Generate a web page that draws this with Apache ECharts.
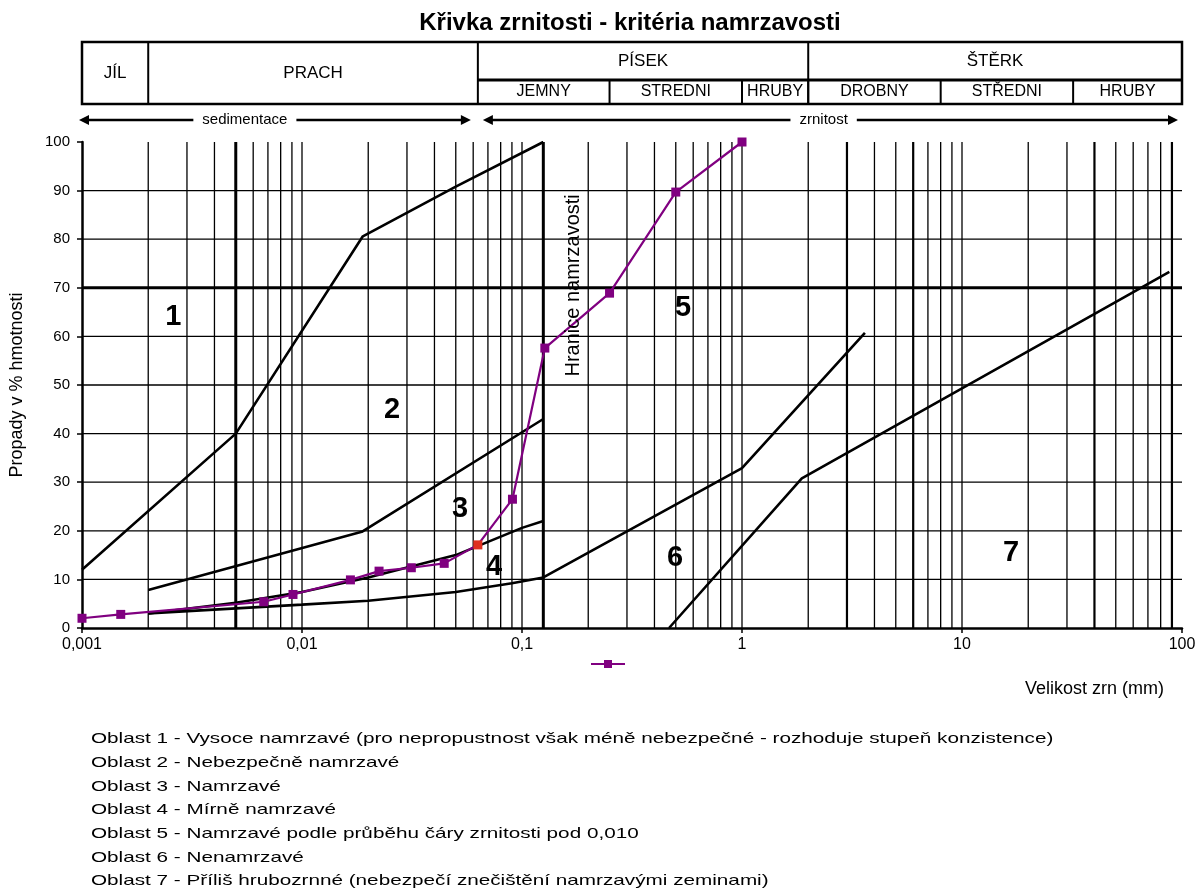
<!DOCTYPE html>
<html>
<head>
<meta charset="utf-8">
<script src="https://cdn.jsdelivr.net/npm/echarts@6/dist/echarts.min.js"></script>
<style>
  html, body { margin: 0; padding: 0; background: #fff; }
  #chart { width: 1204px; height: 894px; }
</style>
</head>
<body>
<div id="chart"></div>
<script>
// ---- grain-size classes shown in the header table (mm) ----
const mainClassNames  = ['JÍL', 'PRACH', 'PÍSEK', 'ŠTĚRK'];
const mainClassBounds = [[0.001, 0.002], [0.002, 0.063], [0.063, 2], [2, 100]];
const subClassNames   = ['JEMNY', 'STREDNI', 'HRUBY', 'DROBNY', 'STŘEDNI', 'HRUBY'];
const subClassBounds  = [[0.063, 0.25], [0.25, 1], [1, 2], [2, 8], [8, 32], [32, 100]];
const rangeArrows     = [{ text: 'sedimentace', from: 0.001, to: 0.063, mid: 0.0055 },
                         { text: 'zrnitost', from: 0.063, to: 100, mid: 2.35 }];

// ---- axes ----
const xTickLabels = ['0,001', '0,01', '0,1', '1', '10', '100'];
const xGridLines = [0.002, 0.003, 0.004, 0.006, 0.007, 0.008, 0.009,
                    0.01, 0.02, 0.03, 0.04, 0.05, 0.06, 0.07, 0.08, 0.09,
                    0.1, 0.2, 0.3, 0.4, 0.5, 0.6, 0.7, 0.8, 0.9,
                    1, 2, 4, 5, 7, 8, 9,
                    10, 20, 30, 50, 60, 70, 80];
const xMediumLines = [3, 6, 40, 90];
const xBoldLines = [0.005, 0.125];          // sedimentation limit, frost-susceptibility limit
const yGridLines = [10, 20, 30, 40, 50, 60, 80, 90];
const yBoldLines = [70];

// ---- boundary curves between regions [grain size mm, passing %] ----
const curve12 = [[0.001, 12], [0.005, 40], [0.0189, 80.6], [0.05, 90.8], [0.125, 100]];
const curve23 = [[0.002, 7.8], [0.0187, 19.8], [0.125, 43]];
const curve34 = [[0.002, 3], [0.005, 5.2], [0.01, 7.4], [0.02, 10.4], [0.05, 15], [0.1, 20.6], [0.125, 22]];
const curve46 = [[0.002, 3], [0.01, 4.8], [0.02, 5.6], [0.05, 7.4], [0.09, 9.2], [0.125, 10.4], [1, 32.9], [3.62, 60.7]];
const curve67 = [[0.466, 0], [1.87, 30.8], [87.6, 73.3]];

// ---- tested soil grading curve ----
const sampleSizes   = [0.001, 0.0015, 0.0067, 0.0091, 0.0166, 0.0224, 0.0314, 0.0443, 0.063, 0.0905, 0.127, 0.25, 0.5, 1];
const samplePassing = [2, 2.8, 5.4, 6.9, 9.9, 11.7, 12.4, 13.3, 17.1, 26.5, 57.6, 68.9, 89.7, 100];
const highlightedSize = 0.063;

// ---- region numbers ----
const regionNames = ['1', '2', '3', '4', '5', '6', '7'];
const regionPos   = [[0.0026, 64], [0.0257, 44.8], [0.0523, 24.5], [0.0746, 12.5], [0.54, 65.8], [0.496, 14.4], [16.7, 15.4]];

const regionNotes = [
  'Oblast 1 - Vysoce namrzavé (pro nepropustnost však méně nebezpečné - rozhoduje stupeň konzistence)',
  'Oblast 2 - Nebezpečně namrzavé',
  'Oblast 3 - Namrzavé',
  'Oblast 4 - Mírně namrzavé',
  'Oblast 5 - Namrzavé podle průběhu čáry zrnitosti pod 0,010',
  'Oblast 6 - Nenamrzavé',
  'Oblast 7 - Příliš hrubozrnné (nebezpečí znečištění namrzavými zeminami)'
];

const FONT = '"Liberation Sans", Arial, sans-serif';
const INK = '#000';
const PURPLE = '#800080';
const X_MIN = 0.001, X_MAX = 100, Y_MIN = 0, Y_MAX = 100;

// Several full-height / full-width rules in one line series, separated by gaps.
function verticalRules(values) {
  const d = [];
  values.forEach(v => { d.push([v, Y_MIN], [v, Y_MAX], [v, '-']); });
  return d;
}
function horizontalRules(values) {
  const d = [];
  values.forEach(v => { d.push([X_MIN, v], [X_MAX, v], ['-', v]); });
  return d;
}
function rules(data, width) {
  return {
    type: 'line', data: data, symbol: 'none', silent: true, z: 1,
    connectNulls: false, lineStyle: { color: INK, width: width }
  };
}
function boundary(data) {
  return {
    type: 'line', data: data, symbol: 'none', silent: true, z: 3,
    lineStyle: { color: INK, width: 2.6 }
  };
}

const chart = echarts.init(document.getElementById('chart'), null, { renderer: 'canvas' });

const option = {
  animation: false,
  backgroundColor: '#fff',
  grid: { left: 82, top: 142, width: 1100, height: 486 },
  legend: {
    left: 585, top: 654, itemWidth: 34, itemHeight: 10,
    data: ['Vzorek'], formatter: () => '', selectedMode: false
  },
  xAxis: {
    type: 'log', logBase: 10, min: X_MIN, max: X_MAX,
    axisLine: { lineStyle: { color: INK, width: 2.5 } },
    axisTick: { show: true, length: 5, lineStyle: { color: INK, width: 1.5 } },
    minorTick: { show: false },
    splitLine: { show: false },
    axisLabel: {
      color: INK, fontSize: 16, fontFamily: FONT, margin: 9,
      formatter: (v, i) => xTickLabels[i] !== undefined ? xTickLabels[i] : String(v).replace('.', ',')
    },
    name: 'Velikost zrn (mm)', nameLocation: 'end', nameGap: -18,
    nameTextStyle: { color: INK, fontSize: 18, fontFamily: FONT, align: 'right', verticalAlign: 'top', padding: [52, 0, 0, 0] }
  },
  yAxis: {
    type: 'value', min: Y_MIN, max: Y_MAX, interval: 10,
    axisLine: { show: true, lineStyle: { color: INK, width: 2.5 } },
    axisTick: { show: true, length: 5, lineStyle: { color: INK, width: 1.5 } },
    splitLine: { show: false },
    axisLabel: { color: INK, fontSize: 15, fontFamily: FONT, margin: 12 },
    name: 'Propady v % hmotnosti', nameLocation: 'middle', nameRotate: 90, nameGap: 56,
    nameTextStyle: { color: INK, fontSize: 18, fontFamily: FONT }
  },
  series: [
    rules(verticalRules(xGridLines), 1.3),
    rules(verticalRules(xMediumLines), 2.2),
    rules(verticalRules(xBoldLines), 3),
    rules(horizontalRules(yGridLines), 1.3),
    rules(horizontalRules(yBoldLines), 3),
    boundary(curve12),
    boundary(curve23),
    boundary(curve34),
    boundary(curve46),
    boundary(curve67),
    {
      name: 'Vzorek', type: 'line', z: 5,
      symbol: 'rect', symbolSize: 9,
      lineStyle: { color: PURPLE, width: 2.2 },
      itemStyle: { color: PURPLE },
      data: sampleSizes.map((s, i) => s === highlightedSize
        ? { value: [s, samplePassing[i]], itemStyle: { color: '#e03020' } }
        : [s, samplePassing[i]])
    },
    {
      name: 'oblasti', type: 'scatter', z: 6, silent: true,
      symbolSize: 1, itemStyle: { color: 'rgba(0,0,0,0)', opacity: 1 },
      label: {
        show: true, position: 'inside', color: INK, fontSize: 29, fontWeight: 'bold', fontFamily: FONT,
        formatter: p => p.name
      },
      data: regionNames.map((n, i) => ({ name: n, value: regionPos[i] }))
    }
  ]
};

chart.setOption(option);

// ---- header table, range arrows, annotations, notes ----
const X = v => chart.convertToPixel({ xAxisIndex: 0 }, v);
const Y = v => chart.convertToPixel({ yAxisIndex: 0 }, v);
const T_TOP = 42, T_MID = 80, T_BOT = 104, ARROW_Y = 120;

function text(str, x, y, size, opts) {
  const o = opts || {};
  return {
    type: 'text', x: x, y: y, rotation: o.rotation || 0, scaleX: o.scaleX || 1, silent: true, z: 10,
    style: {
      text: str, fill: INK, font: (o.weight || 'normal') + ' ' + size + 'px ' + FONT,
      textAlign: o.align || 'center', textVerticalAlign: 'middle',
      align: o.align || 'center', verticalAlign: 'middle',
      backgroundColor: o.bg, padding: o.pad
    }
  };
}
function seg(x1, y1, x2, y2, w) {
  return { type: 'line', silent: true, z: 10, shape: { x1: x1, y1: y1, x2: x2, y2: y2 }, style: { stroke: INK, lineWidth: w } };
}
function head(xTip, y, dir) {
  const L = 10, H = 5;
  return { type: 'polygon', silent: true, z: 10,
    shape: { points: [[xTip, y], [xTip - dir * L, y - H], [xTip - dir * L, y + H]] }, style: { fill: INK } };
}

const els = [];
els.push(text('Křivka zrnitosti - kritéria namrzavosti', 630, 23, 24, { weight: 'bold' }));

const tx0 = X(mainClassBounds[0][0]), tx1 = X(mainClassBounds[mainClassBounds.length - 1][1]);
els.push({ type: 'rect', silent: true, z: 10, shape: { x: tx0, y: T_TOP, width: tx1 - tx0, height: T_BOT - T_TOP },
  style: { fill: 'none', stroke: INK, lineWidth: 2.5 } });
els.push(seg(X(0.063), T_MID, tx1, T_MID, 3));
mainClassBounds.forEach((b, i) => {
  const a = X(b[0]), c = X(b[1]);
  if (i > 0) els.push(seg(a, T_TOP, a, T_BOT, 2));
  const full = b[1] <= 0.063;
  els.push(text(mainClassNames[i], (a + c) / 2, full ? (T_TOP + T_BOT) / 2 : (T_TOP + T_MID) / 2, 17));
});
subClassBounds.forEach((b, i) => {
  const a = X(b[0]), c = X(b[1]);
  if (i > 0) els.push(seg(a, T_MID, a, T_BOT, 2));
  els.push(text(subClassNames[i], (a + c) / 2, (T_MID + T_BOT) / 2, 16));
});

rangeArrows.forEach(r => {
  const a = X(r.from) - (r.from === 0.001 ? 3 : -5), c = X(r.to) - (r.to === 100 ? 4 : 7);
  els.push(seg(a + 6, ARROW_Y, c - 6, ARROW_Y, 2.5));
  els.push(head(a, ARROW_Y, -1));
  els.push(head(c, ARROW_Y, 1));
  els.push(text(r.text, X(r.mid), ARROW_Y, 15, { bg: '#fff', pad: [0, 9] }));
});

els.push(text('Hranice namrzavosti', X(0.172), Y(70.5), 20, { rotation: Math.PI / 2 }));

regionNotes.forEach((s, i) => {
  els.push(text(s, 91, 739 + 23.7 * i, 15, { align: 'left', scaleX: 1.38 }));
});

chart.setOption({ graphic: { elements: els } });
</script>
</body>
</html>
